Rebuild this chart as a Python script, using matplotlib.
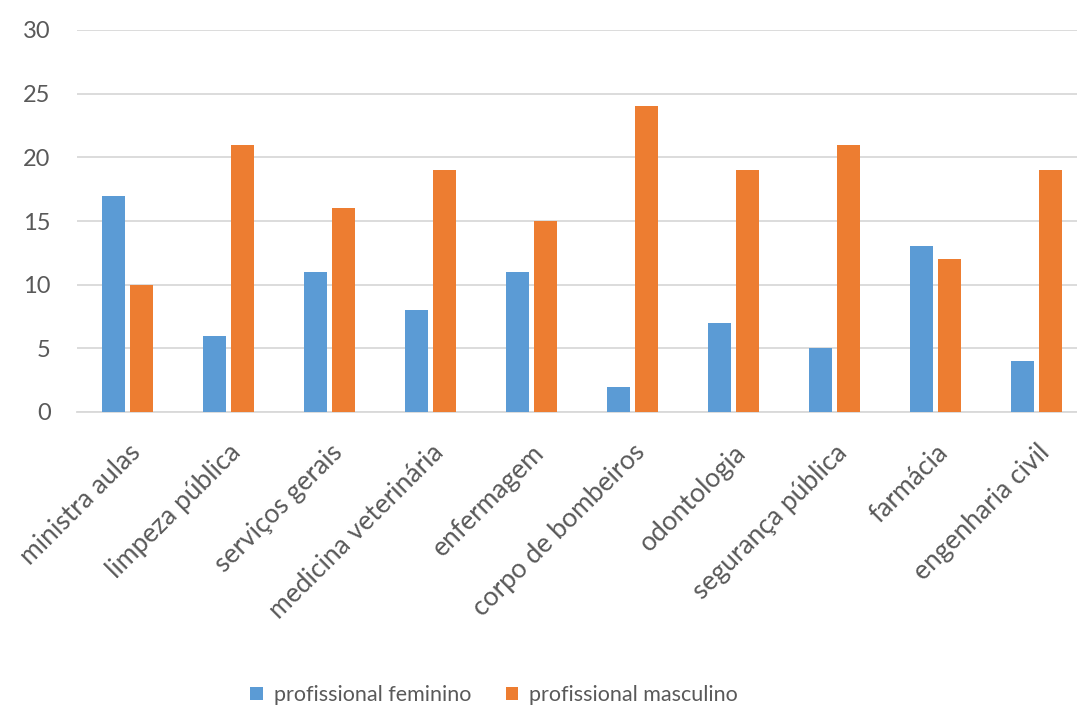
import numpy as np
import matplotlib.pyplot as plt

categories = [
    "ministra aulas", "limpeza pública", "serviços gerais",
    "medicina veterinária", "enfermagem", "corpo de bombeiros",
    "odontologia", "segurança pública", "farmácia", "engenharia civil",
]
feminino = [17, 6, 11, 8, 11, 2, 7, 5, 13, 4]
masculino = [10, 21, 16, 19, 15, 24, 19, 21, 12, 19]

BLUE = "#5B9BD5"
ORANGE = "#ED7D31"
TEXT = "#595959"
GRID = "#D9D9D9"

plt.rcParams["font.family"] = ["Lato", "DejaVu Sans"]

fig = plt.figure(figsize=(10.77, 7.12), dpi=100)
ax = fig.add_axes([77 / 1077, 1 - 412 / 712, 1010 / 1077, 382 / 712])

x = np.arange(len(categories))
w = 0.23
off = 0.14
ax.bar(x - off, feminino, w, color=BLUE, label="profissional feminino", zorder=3)
ax.bar(x + off, masculino, w, color=ORANGE, label="profissional masculino", zorder=3)

ax.set_xlim(-0.5, len(categories) - 0.5)
ax.set_ylim(0, 30)
ax.set_yticks(range(0, 31, 5))
ax.yaxis.grid(True, color=GRID, linewidth=1.3, zorder=0)
ax.set_axisbelow(True)

for s in ["top", "right", "left"]:
    ax.spines[s].set_visible(False)
ax.spines["bottom"].set_color(GRID)
ax.spines["bottom"].set_linewidth(1.3)

ax.tick_params(axis="y", length=0, labelsize=17, colors=TEXT, pad=19)
ax.tick_params(axis="x", length=0, labelsize=19, colors=TEXT, pad=20)
ax.set_xticks(x)
ax.set_xticklabels(categories, rotation=45, ha="right", rotation_mode="anchor")

fig.legend(loc="center", bbox_to_anchor=(494 / 1077, 1 - 695 / 712), ncol=2,
           frameon=False, fontsize=15.5, labelcolor=TEXT,
           handlelength=0.6, handleheight=0.6, handletextpad=0.5,
           columnspacing=1.6)

fig.savefig("out.png", dpi=100)
